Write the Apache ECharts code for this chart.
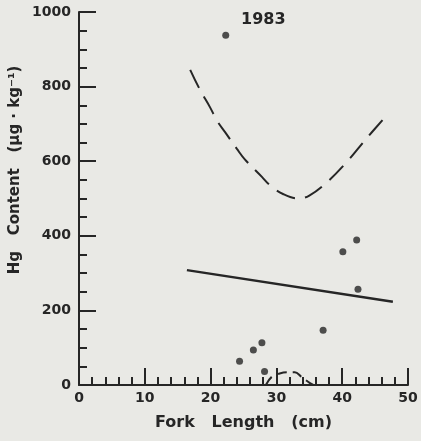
<!DOCTYPE html>
<html>
<head>
<meta charset="utf-8">
<script src="https://cdn.jsdelivr.net/npm/echarts@6/dist/echarts.min.js"></script>
<style>
  html, body { margin: 0; padding: 0; background: #e9e9e5; }
  #chart { width: 421px; height: 441px; }
</style>
</head>
<body>
<div id="chart"></div>
<script>
// fork length (cm) vs Hg content (ug/kg), 1983
const fishPoints = [
  [22.3, 938], [24.4, 64], [26.5, 94], [27.8, 113], [28.2, 36],
  [37.1, 147], [40.1, 357], [42.2, 389], [42.4, 257]
];
const regressionLine = [[16.4, 308], [47.7, 223]];
const upperBand = [
  [16.9, 845], [18.4, 791], [19.9, 745], [21.0, 708], [22.2, 678],
  [24.0, 633], [25.2, 605], [27.8, 558], [29.0, 536], [31.0, 512],
  [33.3, 500], [35.0, 508], [37.7, 544], [40.7, 598], [43.5, 657], [46.5, 718]
];
const lowerBand = [
  [28.4, 0], [29.3, 22], [30.5, 31], [31.6, 34], [32.8, 34],
  [33.8, 22], [35.1, 5], [35.6, 0]
];
const xTicks = [0, 10, 20, 30, 40, 50];
const yTicks = [0, 200, 400, 600, 800, 1000];

const ink = '#262626';
const font = 'DejaVu Sans';

const chart = echarts.init(document.getElementById('chart'));

const option = {
  backgroundColor: '#e9e9e5',
  animation: false,
  title: {
    text: '1983',
    left: 236, top: 7,
    textStyle: { color: ink, fontFamily: font, fontSize: 16, fontWeight: 'bold' }
  },
  grid: { left: 79, right: 13, top: 12, bottom: 56 },
  xAxis: {
    type: 'value',
    min: xTicks[0], max: xTicks[xTicks.length - 1], interval: 10,
    name: 'Fork   Length   (cm)',
    nameLocation: 'middle', nameGap: 30,
    nameTextStyle: { color: ink, fontFamily: font, fontSize: 16, fontWeight: 'bold' },
    axisLine: { lineStyle: { color: ink, width: 2 } },
    axisTick: { inside: true, length: 17, lineStyle: { color: ink, width: 2 } },
    minorTick: { show: true, splitNumber: 5, length: 8, lineStyle: { color: ink, width: 2 } },
    splitLine: { show: false },
    axisLabel: { color: ink, fontFamily: font, fontSize: 14, fontWeight: 'bold', margin: 6 }
  },
  yAxis: {
    type: 'value',
    min: yTicks[0], max: yTicks[yTicks.length - 1], interval: 200,
    axisLine: { show: true, lineStyle: { color: ink, width: 2 } },
    axisTick: { show: true, inside: true, length: 17, lineStyle: { color: ink, width: 2 } },
    minorTick: { show: true, splitNumber: 4, length: 8, lineStyle: { color: ink, width: 2 } },
    splitLine: { show: false },
    axisLabel: {
      color: ink, fontFamily: font, fontSize: 14, fontWeight: 'bold', margin: 8,
      formatter: v => String(v)
    }
  },
  graphic: [{
    type: 'text',
    x: 15, y: 170,
    rotation: Math.PI / 2,
    style: {
      text: 'Hg   Content   (µg · kg⁻¹)',
      fill: ink,
      font: 'bold 15px "DejaVu Sans"',
      align: 'center',
      verticalAlign: 'middle'
    }
  }],
  series: [
    {
      type: 'line', data: regressionLine, symbol: 'none',
      lineStyle: { color: ink, width: 2.5 }
    },
    {
      type: 'line', data: upperBand, symbol: 'none', smooth: 0.4,
      lineStyle: { color: ink, width: 2, type: [20, 10] }
    },
    {
      type: 'line', data: lowerBand, symbol: 'none', smooth: 0.4,
      lineStyle: { color: ink, width: 2, type: [10, 6] }
    },
    {
      type: 'scatter', data: fishPoints, symbolSize: 7,
      itemStyle: { color: ink }
    }
  ]
};

chart.setOption(option);
</script>
</body>
</html>
